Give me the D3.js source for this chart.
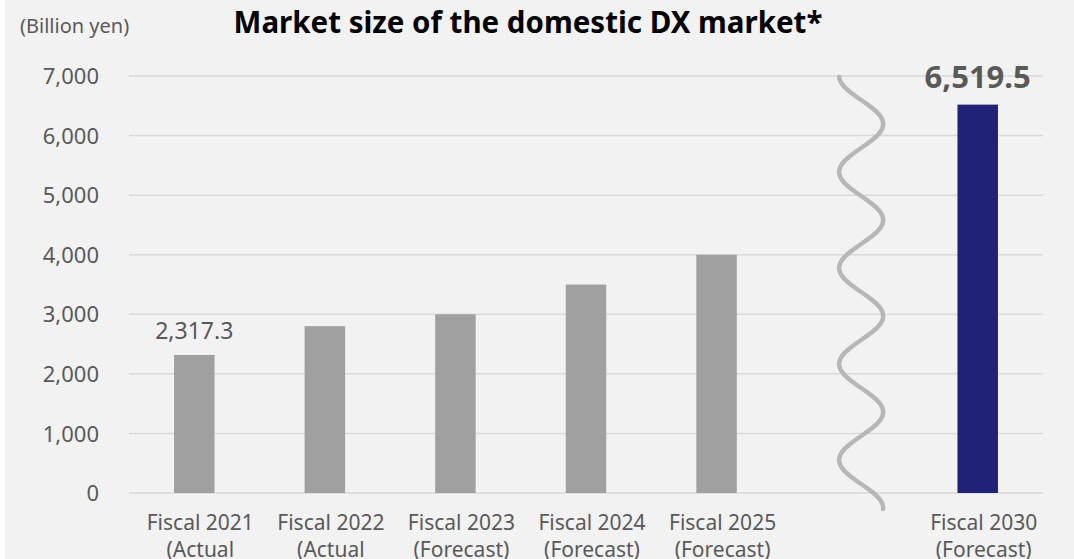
<!DOCTYPE html>
<html><head><meta charset="utf-8">
<script src="https://cdn.jsdelivr.net/npm/d3@7"></script>
<style>
html,body{margin:0;padding:0;background:#fff;}
svg{display:block;font-family:"Noto Sans","Open Sans",sans-serif;}
</style></head>
<body><svg id="c" width="1074" height="559"></svg>
<script>
const categories = ["Fiscal 2021|(Actual", "Fiscal 2022|(Actual", "Fiscal 2023|(Forecast)", "Fiscal 2024|(Forecast)", "Fiscal 2025|(Forecast)", "", "Fiscal 2030|(Forecast)"];
const values = [2317.3, 2800, 3000, 3500, 4000, null, 6519.5];
const labels = ["2,317.3", null, null, null, null, null, "6,519.5"];
const highlight = [false, false, false, false, false, false, true];
const yTicks = [0, 1000, 2000, 3000, 4000, 5000, 6000, 7000];

const W = 1074, H = 559;
const svg = d3.select("#c");
svg.append("rect").attr("x", 5).attr("y", -30).attr("width", W + 30).attr("height", H + 60)
  .attr("rx", 22).attr("fill", "#f2f2f2");

const x = d3.scaleBand().domain(d3.range(categories.length)).range([129, 1043]).paddingInner(0.69).paddingOuter(0.345);
const y = d3.scaleLinear().domain([0, 7000]).range([493, 76]);

// gridlines
svg.append("g").selectAll("line").data(yTicks).join("line")
  .attr("x1", 129).attr("x2", 1043)
  .attr("y1", d => y(d)).attr("y2", d => y(d))
  .attr("stroke", "#d9d9d9").attr("stroke-width", 1.5);

// y axis labels
const yAxis = d3.axisLeft(y).tickValues(yTicks).tickFormat(d3.format(",")).tickSize(0).tickPadding(0);
const ga = svg.append("g").attr("transform", "translate(99,0)").call(yAxis);
ga.select(".domain").remove();
ga.selectAll("text").attr("font-size", 22).attr("fill", "#595959").attr("font-family", "'Noto Sans',sans-serif").attr("dy", "0.35em");

// bars
const data = categories.map((c, i) => ({i, c, v: values[i], l: labels[i], h: highlight[i]}));
svg.append("g").selectAll("rect").data(data.filter(d => d.v != null)).join("rect")
  .attr("x", d => x(d.i)).attr("width", x.bandwidth())
  .attr("y", d => y(d.v)).attr("height", d => y(0) - y(d.v))
  .attr("fill", d => d.h ? "#1f2275" : "#a0a0a0");

// value labels
svg.append("g").selectAll("text").data(data.filter(d => d.l)).join("text")
  .attr("x", d => x(d.i) + x.bandwidth() / 2)
  .attr("y", d => y(d.v) - (d.h ? 17 : 16))
  .attr("text-anchor", "middle")
  .attr("font-size", d => d.h ? 31 : 23)
  .attr("font-weight", d => d.h ? "bold" : "normal")
  .attr("fill", "#595959")
  .text(d => d.l);

// category labels
const cg = svg.append("g").selectAll("text").data(data.filter(d => d.c)).join("text")
  .attr("text-anchor", "middle").attr("font-size", 21).attr("fill", "#595959")
  .attr("transform", d => `translate(${x(d.i) + x.bandwidth() / 2 + 6},0)`);
cg.selectAll("tspan").data(d => d.c.split("|")).join("tspan")
  .attr("x", 0).attr("y", (d, j) => 530 + j * 27).text(d => d);

// wavy break line
const gap = categories.indexOf("");
const cx = x(gap) + x.bandwidth() / 2 + 14, A = 22;
const y0 = y(7000), y1 = y(0) + 17;
const pts = d3.range(y0 + 1, y1 + 0.5, 2).map(yy => [cx - A * Math.cos(Math.PI * (yy - y0) / 48), yy]);
svg.append("path").attr("d", d3.line()(pts)).attr("fill", "none")
  .attr("stroke", "#b7b7b7").attr("stroke-width", 4.5).attr("stroke-linecap", "round");

// title and unit
svg.append("text").attr("x", 528).attr("y", 33).attr("text-anchor", "middle")
  .attr("font-size", 29.5).attr("font-weight", "bold").attr("fill", "#000")
  .text("Market size of the domestic DX market*");
svg.append("text").attr("x", 20).attr("y", 33).attr("font-size", 20).attr("fill", "#595959")
  .text("(Billion yen)");
</script></body></html>
